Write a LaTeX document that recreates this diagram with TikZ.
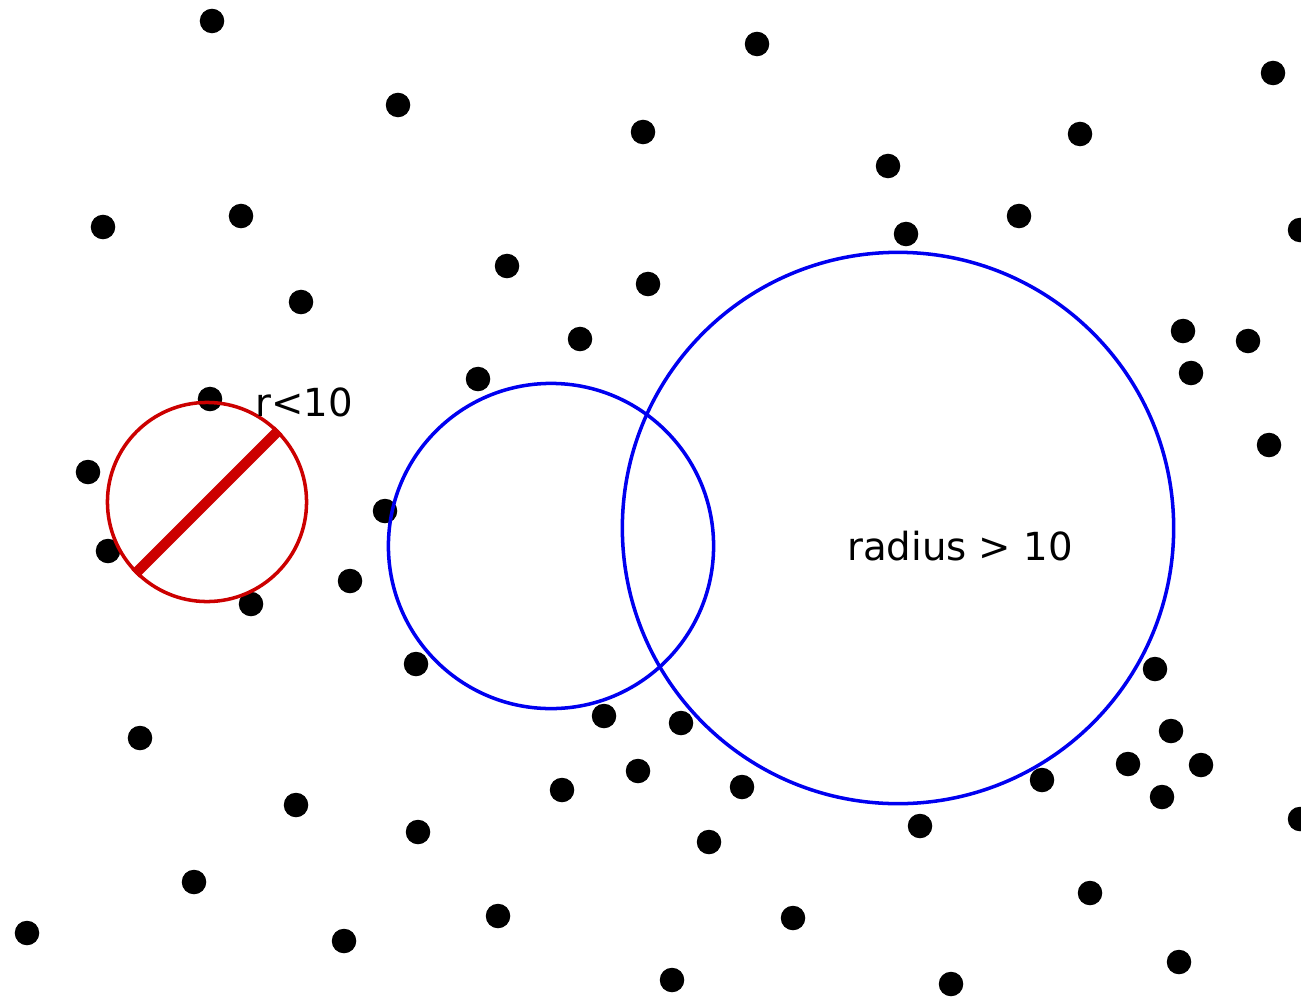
\documentclass[tikz,border=0pt]{standalone}
\usepackage{fontspec}
\setmainfont{DejaVu Sans}
\usepackage{tikz}
\usetikzlibrary{positioning,calc}
\usepackage{xcolor}
\definecolor{ring}{HTML}{CC0000}
\definecolor{probe}{HTML}{0000F0}

\begin{document}
\begin{tikzpicture}[x=0.01cm,y=-0.01cm,
    dot/.style={circle,fill=black,inner sep=0pt,minimum size=0.245cm},
    disc/.style={circle,draw,inner sep=0pt,line width=1pt},
    lbl/.style={font=\fontsize{11}{13}\selectfont}]
  \useasboundingbox (0,0) rectangle (1301,997);
  % points
  \foreach \x/\y [count=\i] in {212/21,757/44,1273/73,398/105,643/132,1080/134,
      888/166,103/227,241/216,1019/216,906/234,1300/230,507/266,648/284,301/302,
      580/339,1183/331,1248/341,1191/373,478/379,210/399,1269/445,88/472,385/511,
      108/551,350/581,251/604,416/664,1155/669,604/716,681/723,140/738,1171/731,
      638/771,1128/764,1201/765,562/790,742/787,1042/780,1162/797,296/805,418/832,
      920/826,1300/819,709/842,194/882,1090/893,27/933,344/941,498/916,793/918,
      1179/962,672/980,951/984}
    \node[dot] (p\i) at (\x,\y) {};
  % small circle: r<10
  \node[disc,ring,minimum size=1.99cm] (rc) at (207,502) {};
  \draw[ring,line width=3pt] (rc.225) -- (rc.45);
  \node[lbl,anchor=west] (rl) at (243,402) {r<10};
  % large circles
  \node[disc,probe,minimum size=3.25cm] (bs) at (551,546) {};
  \node[disc,probe,minimum size=5.51cm] (bb) at (898,528) {};
  \node[lbl] (bl) at (960,546) {radius > 10};
\end{tikzpicture}
\end{document}
